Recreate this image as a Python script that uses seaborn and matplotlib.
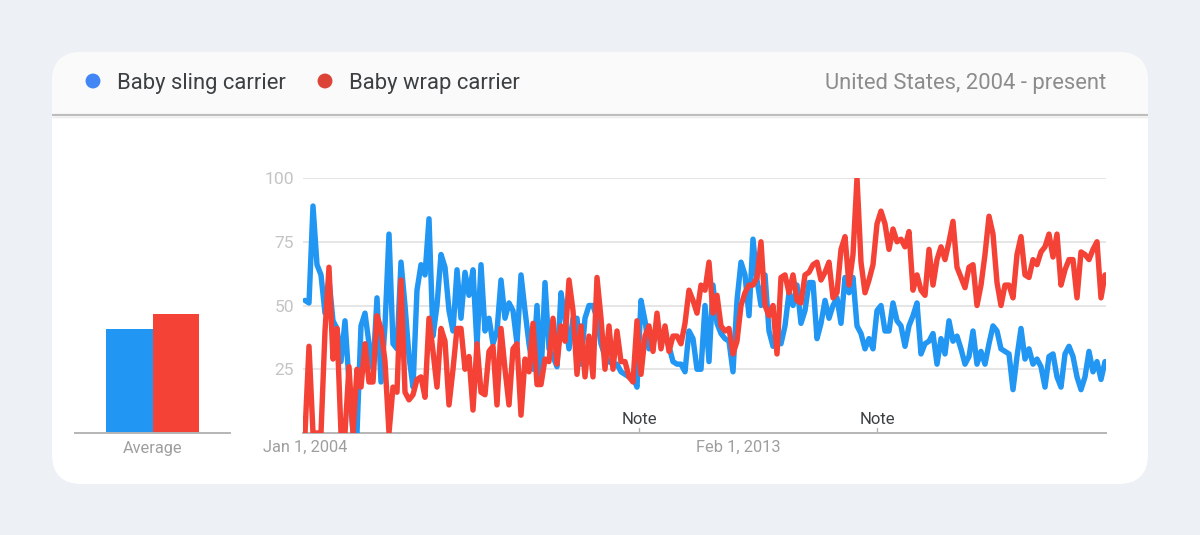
# Google Trends style chart: baby sling vs baby wrap carriers
import numpy as np
import pandas as pd
import matplotlib.pyplot as plt
from matplotlib.patches import FancyBboxPatch, Rectangle
import seaborn as sns

series_names = ['Baby sling carrier', 'Baby wrap carrier']
line_colors = ['#2196f3', '#f44336']
dot_colors = ['#4285f4', '#db4437']

# monthly values
sling = [52,51,89,66,62,47,60,44,41,28,
         44,20,0,0,42,47,35,25,53,20,
         42,78,35,33,67,50,30,18,56,66,
         62,84,38,50,70,65,48,40,64,45,
         63,54,64,34,66,40,45,35,40,60,
         45,51,48,35,62,48,35,25,50,
         22,59,33,30,26,55,45,33,45,45,
         27,45,50,50,45,35,30,28,27,27,
         24,23,22,22,18,52,44,33,35,40,
         36,38,34,28,27,27,24,40,37,25,
         25,50,28,58,43,39,37,36,24,52,
         67,62,46,76,60,50,62,40,34,40,
         35,42,55,50,58,43,48,59,59,37,
         43,52,45,50,53,43,61,55,61,42,
         39,33,37,33,48,50,40,40,51,44,
         42,34,42,46,51,31,35,36,39,27,
         37,31,44,36,38,33,27,30,40,27,
         32,27,35,42,40,33,32,31,17,30,
         41,29,33,27,29,26,18,30,31,22,
         18,31,34,30,22,17,22,32,24,28,
         21,28]
wrap = [0,34,0,0,0,40,65,29,41,0,
        0,26,0,25,18,35,20,20,46,41,
        28,0,18,16,60,16,13,15,21,22,
        14,45,32,18,41,36,11,25,41,41,
        25,30,9,35,16,15,32,34,11,41,
        25,11,33,35,7,29,24,43,19,
        19,29,28,45,27,42,36,60,48,23,
        42,22,38,22,61,45,25,42,25,40,
        28,28,22,20,44,23,38,42,32,47,
        33,42,32,38,38,35,43,56,52,47,
        58,56,67,47,54,42,40,41,31,36,
        50,55,58,58,61,75,50,46,50,31,
        61,62,55,62,52,51,62,63,66,67,
        60,63,67,53,55,72,77,58,70,100,
        67,55,60,66,82,87,82,72,80,75,
        76,73,79,56,62,56,54,72,58,68,
        73,68,75,83,65,61,57,65,66,50,
        58,70,85,78,59,50,58,58,53,70,
        77,62,61,68,66,71,73,78,69,78,
        58,64,68,68,53,71,70,68,72,75,
        53,62]
averages = [40.8, 46.6]
y_ticks = [25, 50, 75, 100]
date_ticks = [0, 108.3]
date_labels = ['Jan 1, 2004', 'Feb 1, 2013']
note_months = [83.5, 143]

sns.set_theme(style='white')
plt.rcParams['font.family'] = ['Roboto', 'DejaVu Sans']

W, H = 1200, 535
fig = plt.figure(figsize=(W / 100, H / 100), dpi=100, facecolor='#edf1f6')

def px_axes(x0, y0, x1, y1, **kw):
    # axes from pixel box, y measured from the top
    return fig.add_axes([x0 / W, 1 - y1 / H, (x1 - x0) / W, (y1 - y0) / H], **kw)

# card background
bg = px_axes(0, 0, W, H)
bg.set_xlim(0, W)
bg.set_ylim(H, 0)
bg.axis('off')
card = FancyBboxPatch((52, 52), 1096, 432, boxstyle='round,pad=0,rounding_size=30',
                      fc='white', ec='none')
bg.add_patch(card)
header = Rectangle((52, 52), 1096, 63, fc='#fafafa', ec='none')
header.set_clip_path(card)
bg.add_patch(header)
bg.plot([52, 1148], [115, 115], color='#bdbdbd', lw=1.6, solid_capstyle='butt')
bg.plot([52, 1148], [116.5, 116.5], color='#ececec', lw=1, solid_capstyle='butt')

bg.scatter([93, 325], [81, 81], s=115, c=dot_colors, linewidths=0)
bg.text(117, 83, series_names[0], fontsize=15.8, color='#3c4043', va='center')
bg.text(349, 83, series_names[1], fontsize=15.8, color='#3c4043', va='center')
bg.text(1106, 83, 'United States, 2004 - present', fontsize=15.85, color='#8c8c8c',
        va='center', ha='right')

# average bars
ax_bar = px_axes(75, 178, 230, 433)
ax_bar.patch.set_alpha(0)
df_avg = pd.DataFrame({'label': ['Average', 'Average'], 'term': series_names, 'value': averages})
sns.barplot(data=df_avg, x='label', y='value', hue='term', palette=line_colors, width=0.605,
            gap=0, saturation=1, legend=False, linewidth=0, ax=ax_bar)
ax_bar.set_xlim(-0.5, 0.5)
ax_bar.set_ylim(0, 100)
ax_bar.set_xlabel('')
ax_bar.set_ylabel('')
ax_bar.set_yticks([])
ax_bar.tick_params(axis='x', length=0, pad=5.5, labelsize=11.8, labelcolor='#9e9e9e')
for side in ['top', 'left', 'right']:
    ax_bar.spines[side].set_visible(False)
ax_bar.spines['bottom'].set_color('#b5b5b5')
ax_bar.spines['bottom'].set_linewidth(1.4)

# trend lines
ax = px_axes(303, 178, 1106, 433)
ax.patch.set_alpha(0)
months = np.arange(len(sling))
df = pd.DataFrame({'month': np.tile(months, 2),
                   'value': sling + wrap,
                   'term': np.repeat(series_names, len(months))})
sns.lineplot(data=df, x='month', y='value', hue='term', palette=line_colors, lw=3.9,
             legend=False, ax=ax, zorder=3, solid_joinstyle='round')
ax.set_xlim(-0.5, 200.25)
ax.set_ylim(0, 100)
ax.set_xlabel('')
ax.set_ylabel('')
ax.set_yticks(y_ticks)
ax.set_xticks(date_ticks)
ax.set_xticklabels(date_labels)
ax.grid(axis='y', color='#e4e4e4', lw=1.3)
ax.set_axisbelow(True)
ax.tick_params(axis='y', length=0, pad=6.5, labelsize=12.6, labelcolor='#c4c4c4')
ax.tick_params(axis='x', length=0, pad=4.8, labelsize=11.8, labelcolor='#9e9e9e')
for side in ['top', 'left', 'right']:
    ax.spines[side].set_visible(False)
ax.spines['bottom'].set_color('#b5b5b5')
ax.spines['bottom'].set_linewidth(1.4)

# note markers above the axis
for m in note_months:
    ax.plot([m, m], [0, 2], color='#b5b5b5', lw=1, zorder=4)
    ax.text(m, 2.4, 'Note', fontsize=12, color='#3c4043', ha='center', va='bottom', zorder=5)

fig.savefig('out.png', dpi=100, facecolor=fig.get_facecolor())
